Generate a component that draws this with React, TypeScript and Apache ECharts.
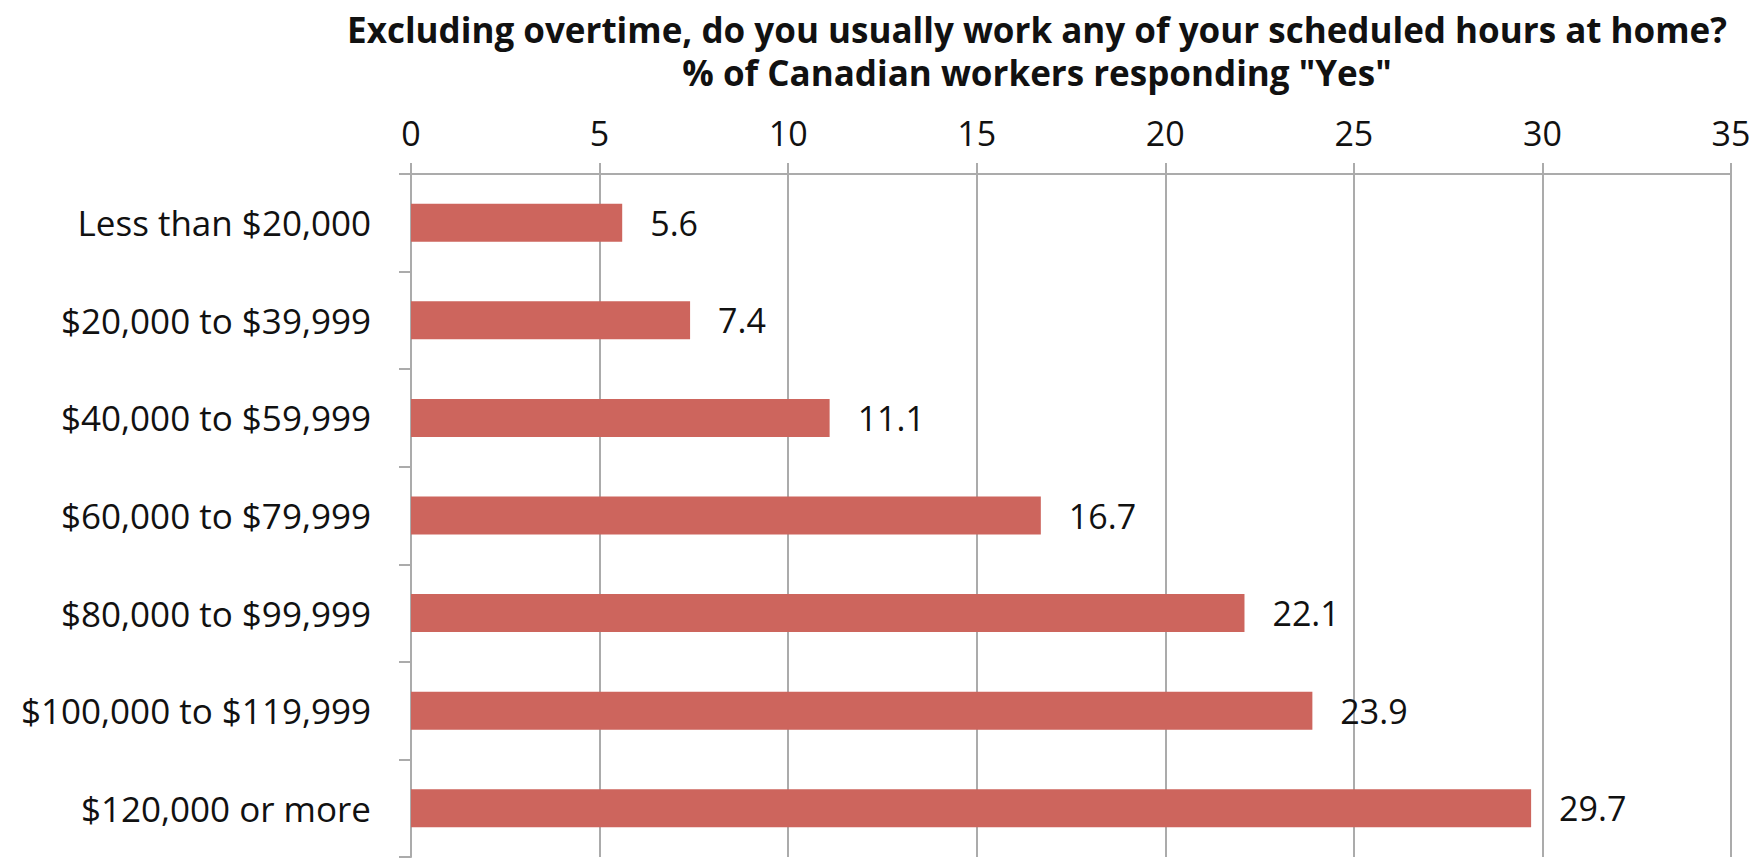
import React, { useEffect, useRef } from "react";
import * as echarts from "echarts";

const titleLines = [
  "Excluding overtime, do you usually work any of your scheduled hours at home?",
  '% of Canadian workers responding "Yes"',
];
const categories = [
  "Less than $20,000",
  "$20,000 to $39,999",
  "$40,000 to $59,999",
  "$60,000 to $79,999",
  "$80,000 to $99,999",
  "$100,000 to $119,999",
  "$120,000 or more",
];
const values = [5.6, 7.4, 11.1, 16.7, 22.1, 23.9, 29.7];
const xMin = 0;
const xMax = 35;
const xInterval = 5;

const FONT = "'Open Sans', sans-serif";
const GRAY = "#ababab";

export default function App() {
  const ref = useRef<HTMLDivElement>(null);
  useEffect(() => {
    if (!ref.current) return;
    const chart = echarts.init(ref.current, null, { renderer: "svg" });
    chart.setOption({
      animation: false,
      backgroundColor: "#ffffff",
      title: {
        text: titleLines.join("\n"),
        left: 1032,
        textAlign: "center",
        top: 3,
        textStyle: {
          fontFamily: FONT,
          fontWeight: "bold",
          fontSize: 35,
          lineHeight: 43,
          color: "#111111",
        },
      },
      grid: { left: 411, right: 26, top: 174, bottom: 5, containLabel: false },
      xAxis: {
        type: "value",
        position: "top",
        min: xMin,
        max: xMax,
        interval: xInterval,
        axisLine: { show: true, lineStyle: { color: GRAY, width: 2 } },
        axisTick: { show: true, length: 11, inside: false, lineStyle: { color: GRAY, width: 2 } },
        axisLabel: { fontFamily: FONT, fontSize: 34, color: "#111111", margin: 24 },
        splitLine: { show: true, lineStyle: { color: GRAY, width: 2 } },
      },
      yAxis: {
        type: "category",
        data: categories,
        inverse: true,
        axisLine: { show: true, lineStyle: { color: GRAY, width: 2 } },
        axisTick: { show: true, length: 12, alignWithLabel: false, lineStyle: { color: GRAY, width: 2 } },
        axisLabel: { fontFamily: FONT, fontSize: 35, color: "#111111", margin: 40 },
      },
      series: [
        {
          type: "bar",
          data: values,
          barWidth: 38,
          itemStyle: { color: "#cd655d" },
          label: {
            show: true,
            position: "right",
            distance: 28,
            fontFamily: FONT,
            fontSize: 34,
            color: "#111111",
          },
        },
      ],
    });
    return () => chart.dispose();
  }, []);
  return (
    <div
      ref={ref}
      style={{ position: "absolute", left: 0, top: 0, width: 1757, height: 862 }}
    />
  );
}
